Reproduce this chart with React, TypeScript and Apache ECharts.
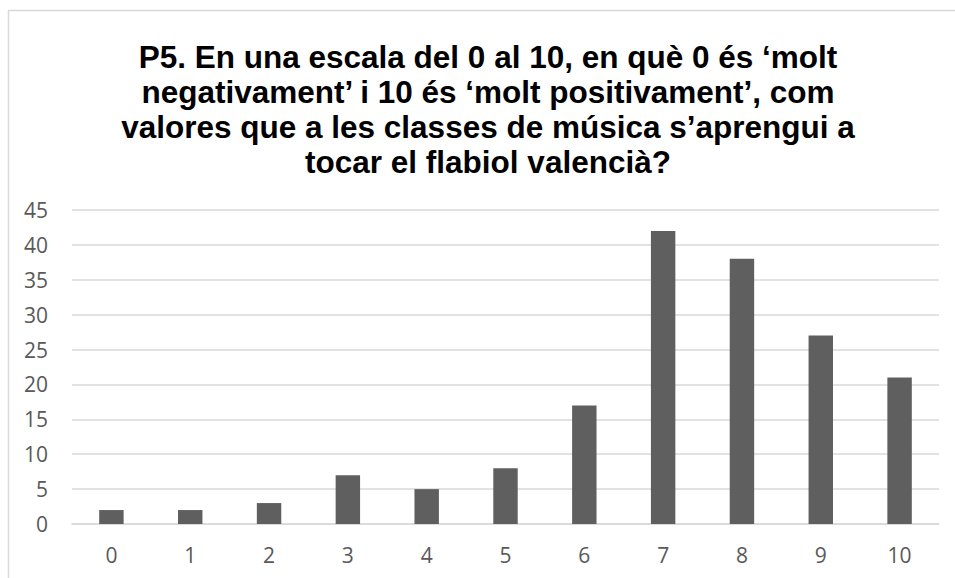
import React, { useEffect, useRef } from "react";
import * as echarts from "echarts";

const titleLines = [
  "P5. En una escala del 0 al 10, en què 0 és ‘molt",
  "negativament’ i 10 és ‘molt positivament’, com",
  "valores que a les classes de música s’aprengui a",
  "tocar el flabiol valencià?",
];
const categories = ["0", "1", "2", "3", "4", "5", "6", "7", "8", "9", "10"];
const values = [2, 2, 3, 7, 5, 8, 17, 42, 38, 27, 21];

export default function App() {
  const ref = useRef<HTMLDivElement>(null);
  useEffect(() => {
    if (!ref.current) return;
    const chart = echarts.init(ref.current, undefined, { renderer: "svg" });
    chart.setOption({
      animation: false,
      backgroundColor: "#ffffff",
      graphic: [
        {
          type: "rect",
          shape: { x: 8.5, y: 10.5, width: 1200, height: 1200 },
          style: { fill: "none", stroke: "#d9d9d9", lineWidth: 1.5 },
          silent: true,
        },
        {
          type: "text",
          x: 488,
          y: 39,
          style: {
            text: titleLines.join("\n"),
            textAlign: "center",
            textVerticalAlign: "top",
            fontFamily: "Liberation Sans",
            fontWeight: "bold",
            fontSize: 31.5,
            lineHeight: 35,
            fill: "#000000",
          },
        },
      ],
      grid: { left: 72, right: 16, top: 210, bottom: 54, containLabel: false },
      xAxis: {
        type: "category",
        data: categories,
        axisLine: { show: true, lineStyle: { color: "#d9d9d9", width: 1.5 } },
        axisTick: { show: false },
        axisLabel: {
          color: "#595959",
          fontFamily: "Open Sans",
          fontSize: 21,
          margin: 20,
        },
      },
      yAxis: {
        type: "value",
        min: 0,
        max: 45,
        interval: 5,
        axisLine: { show: false },
        axisTick: { show: false },
        splitLine: { lineStyle: { color: "#d9d9d9", width: 1.5 } },
        axisLabel: {
          color: "#595959",
          fontFamily: "Open Sans",
          fontSize: 21,
          margin: 24,
        },
      },
      series: [
        {
          type: "bar",
          data: values,
          barWidth: "31%",
          itemStyle: { color: "#5f5f5f" },
        },
      ],
    });
    return () => chart.dispose();
  }, []);
  return (
    <div
      ref={ref}
      style={{ position: "fixed", left: 0, top: 0, width: 955, height: 578 }}
    />
  );
}
